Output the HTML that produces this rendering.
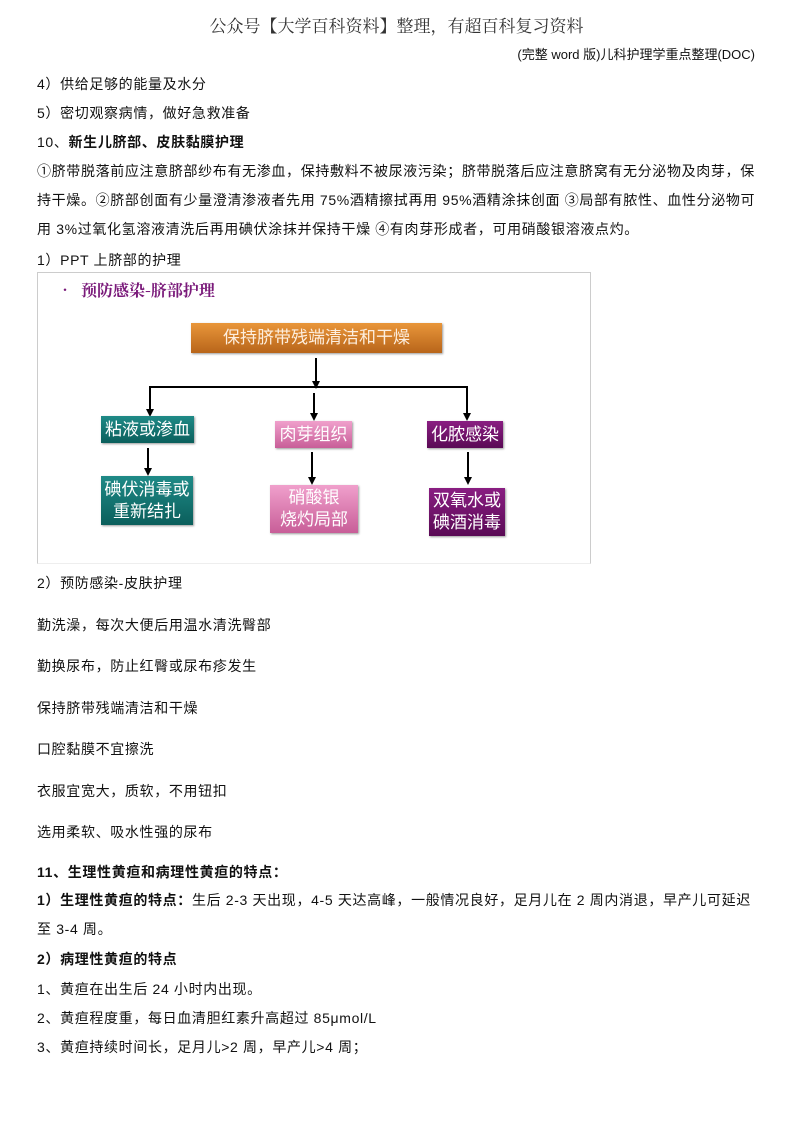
<!DOCTYPE html>
<html><head><meta charset="utf-8"><style>
body{margin:0;width:793px;height:1122px;background:#fff;position:relative;overflow:hidden;font-family:"Liberation Sans","Noto Sans CJK SC",sans-serif;color:#111}
.t{position:absolute;left:37px;font-size:14px;line-height:16px;white-space:nowrap;letter-spacing:0.65px}
b{font-weight:bold}
.box{position:absolute;color:#fff;font-size:17px;line-height:22px;text-align:center;display:flex;align-items:center;justify-content:center;box-shadow:1px 1px 2px #999}
.teal{background:linear-gradient(#1f8a87,#0b5f5c)}
.pink{background:linear-gradient(#f0a0cc,#c85e98)}
.purp{background:linear-gradient(#8a1e82,#5a0a55)}
</style></head><body>
<div style="position:absolute;left:0;width:793px;top:12px;text-align:center;font-size:17px;font-family:'Noto Serif CJK SC','Noto Sans CJK SC',serif;color:#333">公众号【大学百科资料】整理，有超百科复习资料</div>
<div class="t" style="left:auto;right:38px;top:47px;font-size:13px;letter-spacing:0">(完整 word 版)儿科护理学重点整理(DOC)</div>
<div class="t" style="top:76px">4）供给足够的能量及水分</div>
<div class="t" style="top:105px">5）密切观察病情，做好急救准备</div>
<div class="t" style="top:134px">10、<b>新生儿脐部、皮肤黏膜护理</b></div>
<div class="t" style="top:163px">①脐带脱落前应注意脐部纱布有无渗血，保持敷料不被尿液污染；脐带脱落后应注意脐窝有无分泌物及肉芽，保</div>
<div class="t" style="top:192px">持干燥。②脐部创面有少量澄清渗液者先用 75%酒精擦拭再用 95%酒精涂抹创面 ③局部有脓性、血性分泌物可</div>
<div class="t" style="top:221px">用 3%过氧化氢溶液清洗后再用碘伏涂抹并保持干燥 ④有肉芽形成者，可用硝酸银溶液点灼。</div>
<div class="t" style="top:252px">1）PPT 上脐部的护理</div>
<div style="position:absolute;left:37px;top:272px;width:552px;height:290px;border:1px solid #ccc;border-bottom:1px solid #eee;background:#fff"></div>
<div style="position:absolute;left:57px;top:278px;font-size:16px;font-weight:bold;color:#7a1a7a;font-family:'Noto Serif CJK SC',serif">•&nbsp;&nbsp;预防感染-脐部护理</div>
<div class="box" style="left:191px;top:323px;width:251px;height:30px;background:linear-gradient(#e9963a,#b8651a);font-size:17px;color:#fdeede">保持脐带残端清洁和干燥</div>
<svg style="position:absolute;left:0;top:0" width="793" height="600">
<g stroke="#000" stroke-width="2" fill="none">
<line x1="316" y1="358" x2="316" y2="383"/>
<polyline points="150,411 150,387 467,387 467,415"/>
<line x1="314" y1="393" x2="314" y2="415"/>
<line x1="148" y1="448" x2="148" y2="470"/>
<line x1="312" y1="452" x2="312" y2="479"/>
<line x1="468" y1="452" x2="468" y2="479"/>
</g>
<g fill="#000">
<path d="M312,381 L320,381 L316,389z"/>
<path d="M146,409 L154,409 L150,417z"/>
<path d="M310,413 L318,413 L314,421z"/>
<path d="M463,413 L471,413 L467,421z"/>
<path d="M144,468 L152,468 L148,476z"/>
<path d="M308,477 L316,477 L312,485z"/>
<path d="M464,477 L472,477 L468,485z"/>
</g></svg>
<div class="box teal" style="left:101px;top:416px;width:93px;height:27px">粘液或渗血</div>
<div class="box pink" style="left:275px;top:421px;width:77px;height:27px">肉芽组织</div>
<div class="box purp" style="left:427px;top:421px;width:76px;height:27px">化脓感染</div>
<div class="box teal" style="left:101px;top:476px;width:92px;height:49px">碘伏消毒或<br>重新结扎</div>
<div class="box pink" style="left:270px;top:485px;width:88px;height:48px">硝酸银<br>烧灼局部</div>
<div class="box purp" style="left:429px;top:488px;width:76px;height:48px">双氧水或<br>碘酒消毒</div>
<div class="t" style="top:575px">2）预防感染-皮肤护理</div>
<div class="t" style="top:617px">勤洗澡，每次大便后用温水清洗臀部</div>
<div class="t" style="top:658px">勤换尿布，防止红臀或尿布疹发生</div>
<div class="t" style="top:700px">保持脐带残端清洁和干燥</div>
<div class="t" style="top:741px">口腔黏膜不宜擦洗</div>
<div class="t" style="top:783px">衣服宜宽大，质软，不用钮扣</div>
<div class="t" style="top:824px">选用柔软、吸水性强的尿布</div>
<div class="t" style="top:864px"><b>11、生理性黄疸和病理性黄疸的特点：</b></div>
<div class="t" style="top:892px"><b>1）生理性黄疸的特点：</b>生后 2-3 天出现，4-5 天达高峰，一般情况良好，足月儿在 2 周内消退，早产儿可延迟</div>
<div class="t" style="top:921px">至 3-4 周。</div>
<div class="t" style="top:951px"><b>2）病理性黄疸的特点</b></div>
<div class="t" style="top:981px">1、黄疸在出生后 24 小时内出现。</div>
<div class="t" style="top:1010px">2、黄疸程度重，每日血清胆红素升高超过 85μmol/L</div>
<div class="t" style="top:1039px">3、黄疸持续时间长，足月儿&gt;2 周，早产儿&gt;4 周；</div>
</body></html>
